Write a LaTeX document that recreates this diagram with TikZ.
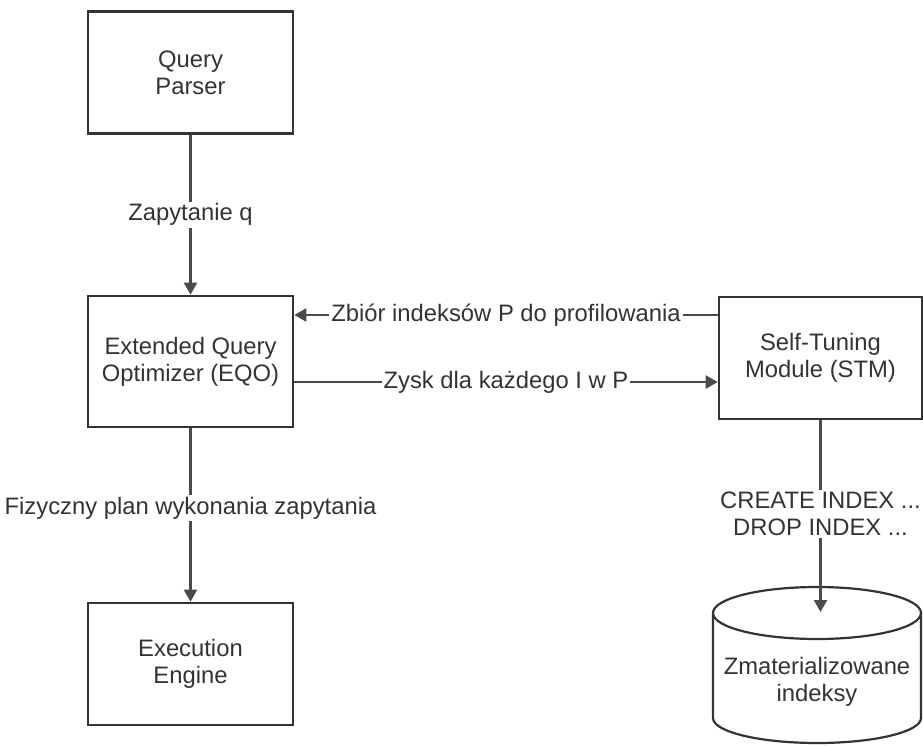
\documentclass[tikz,border=0pt]{standalone}
\usepackage{fontspec}
\setmainfont{Liberation Sans}
\usetikzlibrary{arrows.meta}
\definecolor{ink}{HTML}{333333}
\definecolor{wire}{HTML}{4A4A4A}
\tikzset{
  box/.style={draw=ink, line width=2.6pt, fill=white, text=ink, align=center,
    minimum width=205pt, minimum height=122pt, inner sep=0pt,
    font=\fontsize{23.8}{27}\selectfont},
  conn/.style={draw=wire, line width=2.2pt, -{Triangle[length=12pt,width=13pt]}},
  lbl/.style={fill=white, text=ink, inner sep=2pt, align=center,
    font=\fontsize{23.8}{27}\selectfont},
  cyl/.style={draw=ink, line width=2.2pt},
}
\begin{document}
\begin{tikzpicture}[x=1pt,y=-1pt]
  \useasboundingbox (0,0) rectangle (923,746);
  \node[box] (qp)  at (190.5,72.5) {Query\\Parser};
  \node[box, minimum height=131pt] (eqo) at (190.5,361.5) {Extended Query\\Optimizer (EQO)};
  \node[box] (exe) at (190.5,664) {Execution\\Engine};
  \node[box, minimum width=203pt] (stm) at (820.5,358) {Self-Tuning\\Module (STM)};
  % storage cylinder for the indexes
  \draw[cyl] (817,613) ellipse[x radius=104, y radius=26];
  \draw[cyl] (713,613) -- (713,718) arc[start angle=180, end angle=0, x radius=104, y radius=25] -- (921,613);
  \node[lbl] (db) at (817,682) {Zmaterializowane\\indeksy};
  \coordinate (dbtop) at (820.5,612);
  \draw[conn] (qp) -- node[lbl] {Zapytanie q} (eqo);
  \draw[conn] (eqo) -- node[lbl, pos=0.46] {Fizyczny plan wykonania zapytania} (exe);
  \draw[conn] ([yshift=43pt]stm.west) -- node[lbl] {Zbiór indeksów P do profilowania} ([yshift=43pt]stm.west -| eqo.east);
  \draw[conn] ([yshift=-20.5pt]eqo.east) -- node[lbl] {Zysk dla każdego I w P} ([yshift=-20.5pt]eqo.east -| stm.west);
  \draw[conn] (stm) -- node[lbl, pos=0.49] {CREATE INDEX ...\\DROP INDEX ...} (dbtop);
\end{tikzpicture}
\end{document}
